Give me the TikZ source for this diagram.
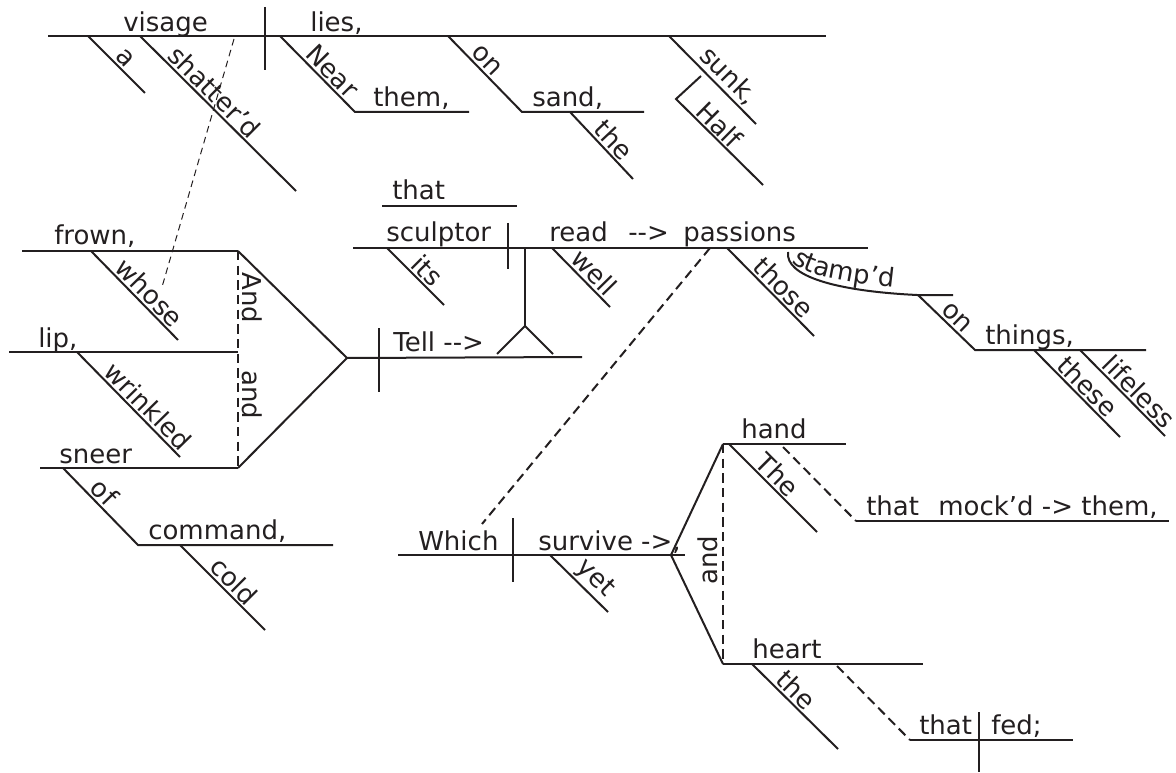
\documentclass[tikz,border=0pt]{standalone}
\usepackage{fontspec}
\newfontfamily\dejavu{DejaVu Sans}[Ligatures=TeXOff]
\usetikzlibrary{decorations.text}
\definecolor{ink}{HTML}{231F20}
\newcommand\wordfont{\dejavu\fontsize{19.5}{23}\selectfont}

\begin{document}
\begin{tikzpicture}[x=0.75pt,y=-0.75pt,
  ln/.style={draw=ink, line width=1.5pt},
  fine/.style={draw=ink, line width=0.75pt, dash pattern=on 5pt off 3.5pt},
  link/.style={draw=ink, line width=1.5pt, dash pattern=on 7pt off 4pt},
  word/.style={anchor=base west, inner sep=0pt, font=\wordfont, text=ink},
  slant/.style={pos=#1, sloped, above, inner sep=1.5pt, font=\wordfont, text=ink},
  conj/.style={inner sep=1.5pt, font=\wordfont, text=ink, anchor=south}]
\useasboundingbox (0,0) rectangle (1176,773);

% ---------- main clause: visage | lies ----------
\coordinate (topL) at (48,36);   \coordinate (topR) at (826,36);
\coordinate (d1t) at (265,7);    \coordinate (d1b) at (265,70);
\coordinate (a0) at (88,36);     \coordinate (a1) at (145,93);
\coordinate (sh0) at (140,36);   \coordinate (sh1) at (296,191);
\coordinate (ne0) at (280,36);   \coordinate (ne1) at (355,112);
\coordinate (th1) at (469,112);
\coordinate (on0) at (448,36);   \coordinate (on1) at (522,112);
\coordinate (sa1) at (644,112);
\coordinate (the0) at (570,112); \coordinate (the1) at (633,179);
\coordinate (su0) at (669,36);   \coordinate (su1) at (756,124);
\coordinate (ha0) at (701,76);   \coordinate (ha1) at (676,99);
\coordinate (ha2) at (763,185);
\draw[ln] (topL) -- (topR);
\draw[ln] (d1t) -- (d1b);
\draw[ln] (a0) -- (a1) node[slant=0.52] (lA) {a};
\draw[ln] (sh0) -- (sh1) node[slant=0.42] (lShat) {shatter’d};
\draw[ln] (ne0) -- (ne1) node[slant=0.58] (lNear) {Near} -- (th1);
\draw[ln] (on0) -- (on1) node[slant=0.42] (lOn) {on} -- (sa1);
\draw[ln] (the0) -- (the1) node[slant=0.55] (lThe) {the};
\draw[ln] (su0) -- (su1) node[slant=0.57] (lSunk) {sunk,};
\draw[ln] (ha0) -- (ha1) -- (ha2);
\path (ha1) -- (ha2) node[slant=0.40] (lHalf) {Half};
\node[word] (wVisage) at (123,32) {visage};
\node[word] (wLies) at (310,32) {lies,};
\node[word] (wThem) at (373,107) {them,};
\node[word] (wSand) at (532,107) {sand,};

% relative pronoun link: whose -> visage
\coordinate (wh0) at (234,39);   \coordinate (wh1) at (162,287);
\draw[fine] (wh0) -- (wh1);

% ---------- object clause: sculptor | read --> passions ----------
\coordinate (tl0) at (382,206);  \coordinate (tl1) at (517,206);
\coordinate (scL) at (353,248);  \coordinate (scR) at (868,248);
\coordinate (d2t) at (508,223);  \coordinate (d2b) at (508,269);
\coordinate (stT) at (525,248);  \coordinate (stB) at (525,326);
\coordinate (yL) at (497,354);   \coordinate (yR) at (553,354);
\coordinate (its0) at (387,248); \coordinate (its1) at (444,305);
\coordinate (we0) at (552,248);  \coordinate (we1) at (610,307);
\coordinate (tho0) at (727,248); \coordinate (tho1) at (814,336);
\draw[ln] (tl0) -- (tl1);
\draw[ln] (scL) -- (scR);
\draw[ln] (d2t) -- (d2b);
\draw[ln] (stT) -- (stB);
\draw[ln] (yL) -- (stB) -- (yR);
\draw[ln] (its0) -- (its1) node[slant=0.55] (lIts) {its};
\draw[ln] (we0) -- (we1) node[slant=0.57] (lWell) {well};
\draw[ln] (tho0) -- (tho1) node[slant=0.55] (lThose) {those};
\node[word] (wThat1) at (392,200) {that};
\node[word] (wSculptor) at (386,242) {sculptor};
\node[word] (wRead) at (549,242) {read};
\node[word] (wArrow) at (628,242) {-->};
\node[word] (wPassions) at (683,242) {passions};

% participial phrase: stamp'd on things
\coordinate (sp0) at (788,252);  \coordinate (sp1) at (917,295);
\coordinate (sp2) at (953,295);
\coordinate (on20) at (918,295); \coordinate (on21) at (975,350);
\coordinate (thg1) at (1146,350);
\coordinate (ts0) at (1034,350); \coordinate (ts1) at (1120,437);
\coordinate (lf0) at (1080,350); \coordinate (lf1) at (1165,436);
\draw[ln] (sp0) .. controls (785,276) and (835,291) .. (sp1) -- (sp2);
\path[decorate, decoration={text along path, text align=left,
      text={|\wordfont\color{ink}|stamp’d}}]
  (792,262) .. controls (801,272) and (825,281) .. (905,289);
\draw[ln] (on20) -- (on21) node[slant=0.55] (lOn2) {on} -- (thg1);
\draw[ln] (ts0) -- (ts1) node[slant=0.52] (lThese) {these};
\draw[ln] (lf0) -- (lf1) node[slant=0.59] (lLifeless) {lifeless};
\node[word] (wThings) at (985,344) {things,};

% ---------- compound subject: frown, lip, sneer | Tell ----------
\coordinate (frL) at (22,251);   \coordinate (frR) at (238,251);
\coordinate (wo0) at (91,251);   \coordinate (wo1) at (178,340);
\coordinate (liL) at (9,352);    \coordinate (liR) at (238,352);
\coordinate (wr0) at (77,352);   \coordinate (wr1) at (180,457);
\coordinate (snL) at (40,468);   \coordinate (snR) at (238,468);
\coordinate (fk) at (347,358);
\coordinate (tlR) at (582,357);
\coordinate (d3t) at (379,328);  \coordinate (d3b) at (379,392);
\coordinate (of0) at (63,468);   \coordinate (of1) at (138,545);
\coordinate (cmR) at (333,545);
\coordinate (co0) at (180,545);  \coordinate (co1) at (265,630);
\draw[ln] (frL) -- (frR);
\draw[ln] (liL) -- (liR);
\draw[ln] (snL) -- (snR);
\draw[ln] (wo0) -- (wo1) node[slant=0.57] (lWhose) {whose};
\draw[ln] (wr0) -- (wr1) node[slant=0.60] (lWrinkled) {wrinkled};
\draw[link] (frR) -- (snR);
\draw[ln] (frR) -- (fk) -- (snR);
\draw[ln] (fk) -- (tlR);
\draw[ln] (d3t) -- (d3b);
\draw[ln] (of0) -- (of1) node[slant=0.43] (lOf) {of} -- (cmR);
\draw[ln] (co0) -- (co1) node[slant=0.53] (lCold) {cold};
\node[conj, rotate=-90] (cAnd1) at (240,298) {And};
\node[conj, rotate=-90] (cAnd2) at (240,395) {and};
\node[word] (wFrown) at (54,245) {frown,};
\node[word] (wLip) at (38,347) {lip,};
\node[word] (wSneer) at (59,463) {sneer};
\node[word] (wCommand) at (148,539) {command,};
\node[word] (wTell) at (393,351) {Tell -->};

% ---------- relative clause: Which | survive -> hand and heart ----------
\coordinate (wcL) at (398,555);  \coordinate (wcR) at (685,555);
\coordinate (d4t) at (513,518);  \coordinate (d4b) at (513,582);
\coordinate (ye0) at (550,555);  \coordinate (ye1) at (608,612);
\coordinate (fk2) at (671,555);
\coordinate (hdL) at (723,444);  \coordinate (hdR) at (846,444);
\coordinate (htL) at (723,664);  \coordinate (htR) at (923,664);
\coordinate (The0) at (729,444); \coordinate (The1) at (817,532);
\coordinate (mk0) at (783,447);  \coordinate (mkL) at (856,521);
\coordinate (mkR) at (1169,521);
\coordinate (th20) at (752,664); \coordinate (th21) at (838,749);
\coordinate (fd0) at (837,666);  \coordinate (fdL) at (910,740);
\coordinate (fdR) at (1073,740);
\coordinate (d5t) at (979,712);  \coordinate (d5b) at (979,772);
\coordinate (pa0) at (710,248);  \coordinate (pa1) at (482,524);
\draw[link] (pa0) -- (pa1);
\draw[ln] (wcL) -- (wcR);
\draw[ln] (d4t) -- (d4b);
\draw[ln] (ye0) -- (ye1) node[slant=0.60] (lYet) {yet};
\draw[ln] (hdL) -- (fk2) -- (htL);
\draw[link] (hdL) -- (htL);
\draw[ln] (hdL) -- (hdR);
\draw[ln] (htL) -- (htR);
\draw[ln] (The0) -- (The1) node[slant=0.45] (lThe2) {The};
\draw[link] (mk0) -- (mkL);
\draw[ln] (mkL) -- (mkR);
\draw[ln] (th20) -- (th21) node[slant=0.41] (lThe3) {the};
\draw[link] (fd0) -- (fdL);
\draw[ln] (fdL) -- (fdR);
\draw[ln] (d5t) -- (d5b);
\node[conj, rotate=90] (cAnd3) at (720,560) {and};
\node[word] (wWhich) at (418,550) {Which};
\node[word] (wSurvive) at (538,550) {survive ->,};
\node[word] (wHand) at (741,438) {hand};
\node[word] (wThat2) at (866,515) {that};
\node[word] (wMock) at (938,515) {mock’d -> them,};
\node[word] (wHeart) at (752,658) {heart};
\node[word] (wThat3) at (919,734) {that};
\node[word] (wFed) at (991,734) {fed;};
\end{tikzpicture}
\end{document}
